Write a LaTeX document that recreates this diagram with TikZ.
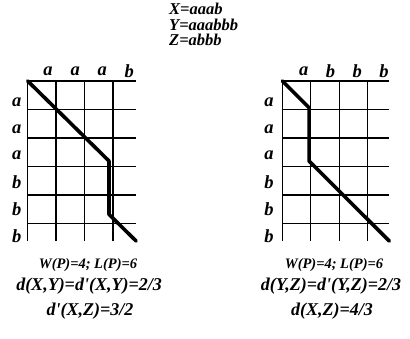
\documentclass[tikz,border=0pt]{standalone}
\usepackage{fontspec}
\setmainfont{Liberation Serif}
\begin{document}
\begin{tikzpicture}[x=1pt,y=-1pt,
  lbl/.style={font=\fontsize{18.5}{18.5}\selectfont\bfseries\itshape, inner sep=0pt},
  top/.style={font=\fontsize{16.5}{16.5}\selectfont\bfseries\itshape, inner sep=0pt, anchor=west, text height=0.66em, text depth=0pt},
  wp/.style={font=\fontsize{14.5}{14.5}\selectfont\bfseries\itshape, inner sep=0pt},
  dd/.style={font=\fontsize{18}{18}\selectfont\bfseries\itshape, inner sep=0pt},
  gridline/.style={line width=1.4pt},
  pathline/.style={line width=3.6pt, line cap=round, line join=round}]
\useasboundingbox (0,0) rectangle (410,338);
% top strings
\node[top] (sx) at (169,11.5) {X=aaab};
\node[top] (sy) at (169,27) {Y=aaabbb};
\node[top] (sz) at (169,42.5) {Z=abbb};
% left grid
\begin{scope}[shift={(27.7,81)}, x=27.1pt, y=-26.67pt]
  \draw[gridline] (0,0) grid (4,6);
  \draw[pathline] (0,0) -- (3,3) -- (3,5) -- (4,6);
  \foreach \t [count=\i] in {a,a,a,b}
    \node[lbl] (lc\i) at (\i-0.5+0.25,-0.36) {\t};
  \foreach \t [count=\i] in {a,a,a,b,b,b}
    \node[lbl] (lr\i) at (-0.4,\i-0.5+0.3) {\t};
\end{scope}
% right grid
\begin{scope}[shift={(282.3,81)}, x=26.75pt, y=-26.67pt]
  \draw[gridline] (0,0) grid (4,6);
  \draw[pathline] (0,0) -- (1,1) -- (1,3) -- (4,6);
  \foreach \t [count=\i] in {a,b,b,b}
    \node[lbl] (rc\i) at (\i-0.5+0.3,-0.36) {\t};
  \foreach \t [count=\i] in {a,a,a,b,b,b}
    \node[lbl] (rr\i) at (-0.5,\i-0.5+0.3) {\t};
\end{scope}
% bottom texts
\node[wp] (lw) at (88,265) {W(P)=4; L(P)=6};
\node[dd] (ld) at (89,286) {d(X,Y)=d\textquotesingle(X,Y)=2/3};
\node[dd] (lz) at (90,311) {d\textquotesingle(X,Z)=3/2};
\node[wp] (rw) at (334,265) {W(P)=4; L(P)=6};
\node[dd] (rd) at (331,286) {d(Y,Z)=d\textquotesingle(Y,Z)=2/3};
\node[dd] (rz) at (332,311) {d(X,Z)=4/3};
\end{tikzpicture}
\end{document}
